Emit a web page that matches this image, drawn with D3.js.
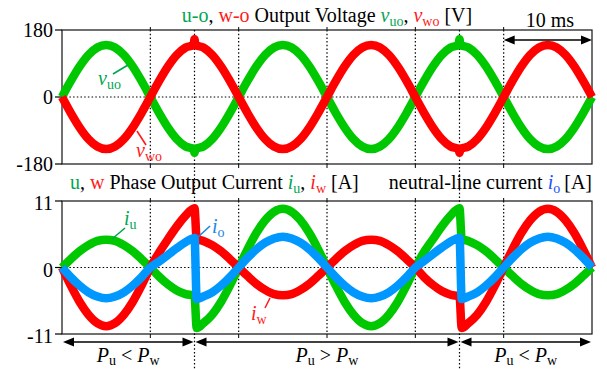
<!DOCTYPE html>
<html>
<head>
<meta charset="utf-8">
<script src="https://cdn.jsdelivr.net/npm/d3@7"></script>
<style>
  html, body { margin: 0; padding: 0; background: #fff; }
  svg { display: block; }
  text { white-space: pre; font-family: "Liberation Serif", "Times New Roman", serif; }
</style>
</head>
<body>
<svg id="chart" width="607" height="369"></svg>
<script>
// ---- Data: time in ms, voltages in V, currents in A ----
const voltTime = [0,1,2,3,4,5,6,7,8,9,10,11,12,13,14,14.9,15,15.1,
  16,17,18,19,20,21,22,23,24,25,26,27,28,29,30,31,32,33,34,35,36,37,38,39,40,41,42,43,44,44.9,45,45.1,
  46,47,48,49,50,51,52,53,54,55,56,57,58,59,60];
const vUO = [0,43,82,113,133,140,133,113,82,43,0,-43,-82,-113,-133,-140,-150,-140,
  -133,-113,-82,-43,0,43,82,113,133,140,133,113,82,43,0,-43,-82,-113,-133,-140,-133,-113,-82,-43,0,43,82,113,133,140,155,140,
  133,113,82,43,0,-43,-82,-113,-133,-140,-133,-113,-82,-43,0];
const vWO = [0,-43,-82,-113,-133,-140,-133,-113,-82,-43,0,43,82,113,133,140,155,140,
  133,113,82,43,0,-43,-82,-113,-133,-140,-133,-113,-82,-43,0,43,82,113,133,140,133,113,82,43,0,-43,-82,-113,-133,-140,-150,-140,
  -133,-113,-82,-43,0,43,82,113,133,140,133,113,82,43,0];

const currTime = [0,1,2,3,4,5,6,7,8,9,10,11,12,13,14,15,15.25,
  16,17,18,19,20,21,22,23,24,25,26,27,28,29,30,31,32,33,34,35,36,37,38,39,40,41,42,43,44,45,45.25,
  46,47,48,49,50,51,52,53,54,55,56,57,58,59,60];
const iU = [0,1.4,2.7,3.7,4.4,4.6,4.4,3.7,2.7,1.4,0,-1.5,-2.8,-3.8,-4.4,-4.7,-10.0,
  -9.2,-7.8,-5.7,-3.0,0,3.0,5.7,7.8,9.2,9.7,9.2,7.8,5.7,3.0,0,-3.0,-5.7,-7.8,-9.2,-9.7,-9.2,-7.8,-5.7,-3.0,0,2.6,4.7,6.8,8.6,9.8,4.7,
  4.4,3.7,2.7,1.4,0,-1.4,-2.7,-3.7,-4.4,-4.6,-4.4,-3.7,-2.7,-1.4,0];
const iW = [0,-3.0,-5.7,-7.8,-9.2,-9.7,-9.2,-7.8,-5.7,-3.0,0,2.5,4.7,6.8,8.6,9.8,4.7,
  4.4,3.7,2.7,1.4,0,-1.4,-2.7,-3.7,-4.4,-4.6,-4.4,-3.7,-2.7,-1.4,0,1.4,2.7,3.7,4.4,4.6,4.4,3.7,2.7,1.4,0,-1.6,-2.9,-3.9,-4.5,-4.8,-10.0,
  -9.2,-7.8,-5.7,-3.0,0,3.0,5.7,7.8,9.2,9.7,9.2,7.8,5.7,3.0,0];
const iO = [0,-1.6,-3.0,-4.1,-4.8,-5.1,-4.8,-4.1,-3.0,-1.6,0,1.0,2.1,3.2,4.2,4.9,-5.2,
  -4.8,-4.1,-3.0,-1.6,0,1.6,3.0,4.1,4.8,5.1,4.8,4.1,3.0,1.6,0,-1.6,-3.0,-4.1,-4.8,-5.1,-4.8,-4.1,-3.0,-1.6,0,1.1,2.2,3.3,4.3,4.9,-5.2,
  -4.8,-4.1,-3.0,-1.6,0,1.6,3.0,4.1,4.8,5.1,4.8,4.1,3.0,1.6,0];

const voltTicks = [180, 0, -180];
const currTicks = [11, 0, -11];
const gridTimes = [10, 20, 30, 40, 50];
const switchTimes = [15, 45];
const modeSpans = [[0, 15, "<"], [15, 45, ">"], [45, 60, "<"]];
const scaleBar = [50, 60];

// ---- Styling ----
const FONT = "Liberation Serif, Times New Roman, serif";
const LINE_G = "#00c800", LINE_R = "#ff0000", LINE_B = "#0098ff";
const TXT_G = "#00a651", TXT_R = "#ff1a1a", TXT_B = "#1e50ff", TXT_B2 = "#1a86e8";
const LW = 8.5;

const svg = d3.select("#chart");
const x = d3.scaleLinear().domain([0, 60]).range([62, 592]);
const yV = d3.scaleLinear().domain([-180, 180]).range([164, 30]);
const yI = d3.scaleLinear().domain([-11, 11]).range([334, 201]);

// rich text helper: parts with colour, italic and subscript flags
function rich(x0, y0, anchor, parts, size = 20, subSize = 14, subDy = 4) {
  const t = svg.append("text").attr("x", x0).attr("y", y0)
    .attr("text-anchor", anchor).attr("font-size", size).attr("font-family", FONT);
  let shift = 0;
  parts.forEach(p => {
    const s = t.append("tspan").text(p.t).attr("fill", p.c || "#000");
    if (p.i) s.attr("font-style", "italic");
    const target = p.sub ? subDy : 0;
    if (target !== shift) { s.attr("dy", target - shift); shift = target; }
    if (p.sub) s.attr("font-size", subSize);
  });
  return t;
}

function panel(y, ticks, tickDy) {
  const [top, bottom] = [y.range()[1], y.range()[0]];
  const g = svg.append("g");
  // zero line
  g.append("line").attr("x1", x(0)).attr("x2", x(60)).attr("y1", y(0)).attr("y2", y(0))
    .attr("stroke", "#000").attr("stroke-width", 1.2).attr("stroke-dasharray", "1.5,2.2");
  // time grid
  gridTimes.forEach(t => {
    g.append("line").attr("x1", x(t)).attr("x2", x(t)).attr("y1", top).attr("y2", bottom)
      .attr("stroke", "#000").attr("stroke-width", 1.2).attr("stroke-dasharray", "1.5,2.2");
    g.append("line").attr("x1", x(t)).attr("x2", x(t)).attr("y1", top - 3).attr("y2", top)
      .attr("stroke", "#000").attr("stroke-width", 1);
    g.append("line").attr("x1", x(t)).attr("x2", x(t)).attr("y1", bottom).attr("y2", bottom + 4)
      .attr("stroke", "#000").attr("stroke-width", 1);
  });
  // frame
  g.append("rect").attr("x", x(0)).attr("y", top).attr("width", x(60) - x(0)).attr("height", bottom - top)
    .attr("fill", "none").attr("stroke", "#111").attr("stroke-width", 1.2);
  // y ticks
  ticks.forEach(v => {
    g.append("line").attr("x1", x(0) - 7).attr("x2", x(0)).attr("y1", y(v)).attr("y2", y(v))
      .attr("stroke", "#000").attr("stroke-width", 1.2);
    g.append("text").attr("x", x(0) - 9).attr("y", y(v)).attr("dy", tickDy)
      .attr("text-anchor", "end").attr("font-size", 20).attr("font-family", FONT).text(v);
  });
}

panel(yV, voltTicks, "0.35em");
panel(yI, currTicks, "0.45em");

// switching instants run through both panels
switchTimes.forEach(t => {
  svg.append("line").attr("x1", x(t)).attr("x2", x(t)).attr("y1", yV(180)).attr("y2", 369)
    .attr("stroke", "#000").attr("stroke-width", 1.2).attr("stroke-dasharray", "1.5,2.2");
});

// waveforms
function trace(times, vals, y, color) {
  const line = d3.line().x((d, i) => x(times[i])).y(d => y(d)).curve(d3.curveMonotoneX);
  svg.append("path").datum(vals).attr("d", line)
    .attr("fill", "none").attr("stroke", color).attr("stroke-width", LW)
    .attr("stroke-linejoin", "round").attr("stroke-linecap", "butt");
}
trace(voltTime, vUO, yV, LINE_G);
trace(voltTime, vWO, yV, LINE_R);
trace(currTime, iU, yI, LINE_G);
trace(currTime, iW, yI, LINE_R);
trace(currTime, iO, yI, LINE_B);

// trace labels with leader lines
function leader(x1, y1, x2, y2, c) {
  svg.append("line").attr("x1", x1).attr("y1", y1).attr("x2", x2).attr("y2", y2)
    .attr("stroke", c).attr("stroke-width", 1.6);
}
leader(113, 74, 128, 65, TXT_G);
rich(98, 85, "start", [{t: "v", c: TXT_G, i: 1}, {t: "uo", c: TXT_G, sub: 1}]);
leader(137, 131, 146, 145, TXT_R);
rich(136, 157, "start", [{t: "v", c: TXT_R, i: 1}, {t: "wo", c: TXT_R, sub: 1}]);
leader(112, 239, 125, 228, TXT_G);
rich(124, 225, "start", [{t: "i", c: TXT_G, i: 1}, {t: "u", c: TXT_G, sub: 1}]);
leader(197, 238, 210, 226, TXT_B2);
rich(212, 233, "start", [{t: "i", c: TXT_B2, i: 1}, {t: "o", c: TXT_B2, sub: 1}]);
leader(270, 298, 265, 308, TXT_R);
rich(251, 320, "start", [{t: "i", c: TXT_R, i: 1}, {t: "w", c: TXT_R, sub: 1}]);

// titles
rich((x(0) + x(60)) / 2, 22, "middle", [
  {t: "u-o", c: TXT_G}, {t: ", "}, {t: "w-o", c: TXT_R}, {t: " Output Voltage "},
  {t: "v", c: TXT_G, i: 1}, {t: "uo", c: TXT_G, sub: 1}, {t: ", "},
  {t: "v", c: TXT_R, i: 1}, {t: "wo", c: TXT_R, sub: 1}, {t: " [V]"}
]);
rich(70, 189, "start", [
  {t: "u", c: TXT_G}, {t: ", "}, {t: "w", c: TXT_R}, {t: " Phase Output Current "},
  {t: "i", c: TXT_G, i: 1}, {t: "u", c: TXT_G, sub: 1}, {t: ", "},
  {t: "i", c: TXT_R, i: 1}, {t: "w", c: TXT_R, sub: 1}, {t: " [A]"}
]);
rich(592, 189, "end", [
  {t: "neutral-line current "}, {t: "i", c: TXT_B, i: 1}, {t: "o", c: TXT_B, sub: 1}, {t: "\u2009[A]"}
]);

// double-headed arrows
function dblArrow(xa, xb, y) {
  const L = 11, H = 4.5;
  svg.append("line").attr("x1", xa + L - 1).attr("x2", xb - L + 1).attr("y1", y).attr("y2", y)
    .attr("stroke", "#000").attr("stroke-width", 1.4);
  svg.append("path").attr("d", `M${xa},${y}L${xa + L},${y - H}L${xa + L},${y + H}Z`).attr("fill", "#000");
  svg.append("path").attr("d", `M${xb},${y}L${xb - L},${y - H}L${xb - L},${y + H}Z`).attr("fill", "#000");
}
dblArrow(x(scaleBar[0]), x(scaleBar[1]), 40);
svg.append("text").attr("x", (x(scaleBar[0]) + x(scaleBar[1])) / 2 + 2).attr("y", 27)
  .attr("text-anchor", "middle").attr("font-size", 20).attr("font-family", FONT).text("10 ms");

modeSpans.forEach(([a, b, rel]) => {
  dblArrow(x(a) + 1, x(b) - 1, 342);
  rich((x(a) + x(b)) / 2, 362, "middle", [
    {t: "P", i: 1}, {t: "u", sub: 1}, {t: " " + rel + " "}, {t: "P", i: 1}, {t: "w", sub: 1}
  ], 20, 14, 2.5);
});
</script>
</body>
</html>
